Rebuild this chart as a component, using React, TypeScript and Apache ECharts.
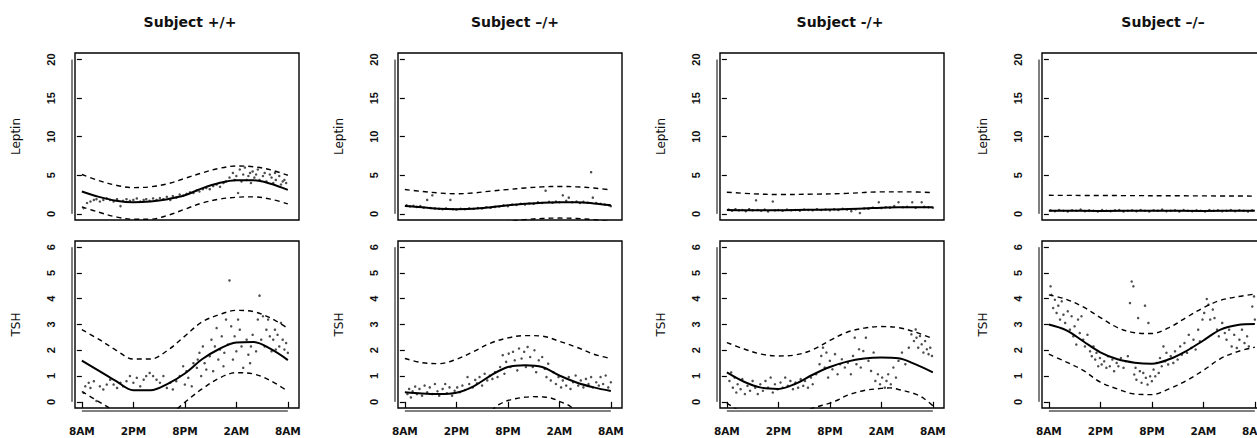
import React, { useEffect, useRef } from "react";
import * as echarts from "echarts";

// ---------- labels ----------
const subjects = ["Subject +/+", "Subject \u2013/+", "Subject -/+", "Subject \u2013/\u2013"];
const xTickHours = [0, 6, 12, 18, 24];
const xTickLabels = ["8AM", "2PM", "8PM", "2AM", "8AM"];
const leptinTicks = [0, 5, 10, 15, 20];
const tshTicks = [0, 1, 2, 3, 4, 5, 6];
const rowNames = ["Leptin", "TSH"];

// ---------- Subject +/+ ----------
const leptinPts1 = [[0.2,0.74],[0.6,1.4],[1.0,1.6],[1.4,1.8],[1.7,1.9],[2.1,1.6],[2.5,1.8],[2.9,2.0],[3.3,1.8],[3.7,1.6],[4.1,1.9],[4.5,1.0],[4.8,1.7],[5.2,1.9],[5.6,1.7],[6.0,1.8],[6.4,2.0],[6.8,1.6],[7.2,1.8],[7.5,1.9],[7.9,1.7],[8.3,2.0],[8.7,1.8],[9.1,2.05],[9.5,1.9],[9.9,2.2],[10.3,1.8],[10.6,2.3],[11.0,2.1],[11.4,2.5],[11.8,2.35],[12.2,2.6],[12.6,2.8],[13.0,2.7],[13.4,3.05],[13.7,2.9],[14.1,3.2],[14.5,3.35],[14.9,3.2],[15.3,3.6],[15.7,3.8],[16.1,3.5],[16.5,4.0],[16.8,4.2],[17.2,4.7],[17.6,5.3],[17.8,4.4],[18.0,4.9],[18.2,2.7],[18.4,5.75],[18.6,4.2],[18.8,5.1],[19.0,6.0],[19.2,4.4],[19.4,4.9],[19.6,5.3],[19.7,4.0],[19.9,5.5],[20.1,4.7],[20.3,5.1],[20.5,5.75],[20.7,4.4],[21.1,4.9],[21.3,5.3],[21.5,4.2],[21.9,5.1],[22.1,4.7],[22.3,4.0],[22.5,5.3],[22.6,4.4],[23.0,4.9],[23.2,3.8],[23.4,4.2],[23.6,4.4],[23.8,4.0]];
const leptinFit1 = [[0,2.9],[2,2.2],[4,1.7],[6,1.5],[8,1.6],[10,1.9],[12,2.4],[14,3.3],[16,4.0],[18,4.35],[20,4.35],[22,3.9],[24,3.1]];
const leptinUp1 = [[0,5.1],[2,4.3],[4,3.7],[6,3.4],[8,3.5],[10,3.9],[12,4.6],[14,5.3],[16,5.9],[18,6.2],[20,6.1],[22,5.7],[24,5.0]];
const leptinLo1 = [[0,0.9],[2,0.2],[4,-0.4],[6,-0.7],[8,-0.7],[10,-0.2],[12,0.6],[14,1.4],[16,1.9],[18,2.15],[20,2.2],[22,1.9],[24,1.3]];
const tshPts1 = [[0.2,0.35],[0.4,0.6],[0.8,0.74],[1.0,0.54],[1.4,0.8],[1.7,0.03],[2.1,0.6],[2.5,0.48],[2.9,0.67],[3.3,0.86],[3.7,0.67],[4.1,0.54],[4.5,0.74],[4.8,0.6],[5.2,0.8],[5.6,1.0],[6.0,0.74],[6.4,0.93],[6.8,0.6],[7.2,0.86],[7.5,1.0],[7.9,1.12],[8.3,1.0],[8.7,0.86],[9.1,0.74],[9.5,1.0],[9.9,0.54],[10.3,0.74],[10.6,0.48],[11.0,0.8],[11.4,1.0],[11.8,1.38],[12.0,0.67],[12.2,1.19],[12.4,0.93],[12.8,0.6],[13.0,1.5],[13.4,1.32],[13.5,1.64],[13.7,1.9],[13.9,1.0],[14.1,2.15],[14.3,1.5],[14.5,1.25],[14.9,1.77],[15.1,2.41],[15.3,1.19],[15.5,2.15],[15.7,2.86],[15.9,1.64],[16.1,2.03],[16.3,2.54],[16.5,1.38],[16.6,1.9],[16.8,3.19],[17.0,2.22],[17.2,4.71],[17.4,2.93],[17.6,1.64],[17.8,2.54],[18.0,1.96],[18.2,3.19],[18.4,2.8],[18.6,2.15],[18.8,1.32],[19.2,2.41],[19.4,1.83],[19.6,1.5],[19.7,2.15],[19.9,2.6],[20.3,1.96],[20.5,3.19],[20.7,4.12],[20.9,2.41],[21.1,3.32],[21.3,2.15],[21.5,2.8],[21.7,3.19],[21.9,2.54],[22.1,1.96],[22.3,2.41],[22.5,2.8],[22.6,2.03],[22.8,2.6],[23.0,2.15],[23.2,3.06],[23.4,2.41],[23.6,2.03],[23.8,2.28],[24.0,1.9]];
const tshFit1 = [[0,1.6],[2,1.2],[4,0.8],[6,0.45],[8,0.45],[10,0.7],[12,1.1],[14,1.65],[16,2.05],[18,2.3],[20,2.32],[22,2.05],[24,1.62]];
const tshUp1 = [[0,2.8],[2,2.42],[4,2.0],[6,1.66],[8,1.66],[10,2.0],[12,2.55],[14,3.1],[16,3.38],[18,3.55],[20,3.5],[22,3.25],[24,2.85]];
const tshLo1 = [[0,0.4],[2,0.0],[4,-0.4],[6,-0.8],[8,-0.8],[10,-0.55],[11,-0.3],[12,-0.02],[13,0.25],[14,0.5],[16,0.92],[18,1.13],[20,1.08],[22,0.82],[24,0.41]];

// ---------- Subject –/+ ----------
const leptinPts2 = [[0.2,1.1],[0.6,0.95],[1.0,1.05],[1.4,0.9],[1.8,1.0],[2.2,0.8],[2.6,1.8],[3.0,0.75],[3.2,2.4],[3.5,0.7],[4.0,0.65],[4.4,0.6],[4.8,0.7],[5.3,1.8],[5.6,0.6],[6.0,0.55],[6.5,0.65],[7.0,0.6],[7.5,0.7],[8.0,0.65],[8.5,0.75],[9.0,0.7],[9.5,0.85],[10.0,0.8],[10.5,0.9],[11.0,0.95],[11.5,1.1],[12.0,1.0],[12.5,1.2],[13.0,1.15],[13.5,1.3],[14.0,1.2],[14.5,1.35],[15.0,1.3],[15.5,1.5],[16.0,1.4],[16.4,3.0],[16.8,1.55],[17.2,1.45],[17.6,1.6],[18.0,1.5],[18.4,2.4],[18.8,1.7],[19.1,2.1],[19.5,1.5],[20.0,1.6],[20.4,1.4],[20.8,1.55],[21.3,1.45],[21.7,5.4],[21.9,2.1],[22.3,1.4],[22.8,1.3],[23.3,1.2],[23.8,1.1],[24.0,1.0]];
const leptinFit2 = [[0,1.0],[2,0.85],[4,0.65],[6,0.6],[8,0.65],[10,0.85],[12,1.1],[14,1.3],[16,1.45],[18,1.5],[20,1.5],[22,1.35],[24,1.1]];
const leptinUp2 = [[0,3.15],[2,2.9],[4,2.7],[6,2.6],[8,2.7],[10,2.95],[12,3.15],[14,3.35],[16,3.5],[18,3.55],[20,3.5],[22,3.35],[24,3.1]];
const leptinLo2 = [[0,-1.2],[4,-1.4],[8,-1.4],[12,-1.0],[14,-0.75],[16,-0.6],[18,-0.55],[20,-0.6],[22,-0.75],[24,-1.0]];
const tshPts2 = [[0.3,0.3],[0.5,0.5],[0.7,0.17],[0.9,0.41],[1.2,0.59],[1.4,0.3],[1.7,0.5],[2.0,0.24],[2.3,0.63],[2.6,0.37],[2.9,0.56],[3.2,0.3],[3.5,0.69],[3.8,0.41],[4.0,0.24],[4.4,0.5],[4.7,0.69],[4.9,0.33],[5.2,0.56],[5.5,0.24],[5.8,0.43],[6.1,0.56],[6.4,0.37],[6.7,0.63],[7.0,0.46],[7.3,0.96],[7.5,0.69],[7.9,0.56],[8.2,0.85],[8.4,0.72],[8.7,0.96],[9.0,0.63],[9.3,1.09],[9.6,0.83],[9.9,1.02],[10.2,0.89],[10.5,1.15],[10.8,0.96],[11.1,1.35],[11.4,1.81],[11.6,1.09],[11.8,1.55],[12.1,1.87],[12.3,1.35],[12.6,1.94],[12.8,1.61],[13.1,1.22],[13.3,2.07],[13.6,1.68],[13.9,1.94],[14.1,1.35],[14.3,2.13],[14.6,1.74],[14.9,1.35],[15.1,2.0],[15.3,1.15],[15.6,1.61],[16.0,1.74],[16.3,1.28],[16.5,0.96],[16.7,1.48],[17.0,0.83],[17.3,1.15],[17.6,0.69],[17.9,0.96],[18.2,0.56],[18.4,0.83],[18.8,0.63],[19.1,0.96],[19.3,0.5],[19.6,0.76],[19.9,1.02],[20.2,0.63],[20.5,0.83],[20.8,0.56],[21.1,0.89],[21.4,0.69],[21.7,0.96],[21.9,0.56],[22.3,0.76],[22.6,0.63],[22.8,0.96],[23.1,0.69],[23.4,1.02],[23.7,0.56],[24.0,0.76]];
const tshFit2 = [[0,0.37],[2,0.32],[4,0.3],[6,0.35],[8,0.6],[10,1.02],[12,1.35],[14,1.42],[16,1.35],[18,1.02],[20,0.75],[22,0.56],[24,0.42]];
const tshUp2 = [[0,1.68],[2,1.52],[4,1.48],[6,1.65],[8,1.95],[10,2.28],[12,2.48],[14,2.57],[16,2.55],[18,2.35],[20,2.12],[22,1.85],[24,1.68]];
const tshLo2 = [[0,-0.9],[3,-0.95],[6,-0.95],[8,-0.7],[10,-0.35],[11,-0.1],[12,0.05],[13,0.13],[14,0.18],[15,0.2],[16,0.19],[17,0.15],[18,0.02],[19,-0.12],[20,-0.35],[22,-0.7],[24,-0.85]];

// ---------- Subject -/+ ----------
const leptinPts3 = [[0.2,0.55],[0.6,0.4],[1.0,0.6],[1.4,0.45],[1.8,0.5],[2.2,0.35],[2.6,0.6],[3.0,0.45],[3.4,1.75],[3.6,0.5],[4.0,0.4],[4.4,0.55],[4.8,0.3],[5.35,1.6],[5.6,0.45],[6.0,0.5],[6.5,0.4],[7.0,0.55],[7.5,0.45],[8.0,0.5],[8.5,0.4],[9.0,0.55],[9.5,0.5],[10,0.45],[10.5,0.6],[11,0.5],[11.5,0.55],[12,0.45],[12.5,0.6],[13,0.5],[13.5,0.65],[14,0.55],[14.5,0.35],[15,0.6],[15.5,0.1],[16,0.7],[16.5,0.65],[17,0.8],[17.7,1.5],[18,0.75],[18.5,0.85],[19,0.8],[19.5,1.0],[20,1.5],[20.5,0.85],[21,0.9],[21.6,1.5],[22,0.8],[22.7,1.5],[23,0.9],[23.5,0.85],[24,0.8]];
const leptinFit3 = [[0,0.5],[4,0.45],[8,0.5],[12,0.55],[16,0.7],[18,0.8],[20,0.85],[24,0.85]];
const leptinUp3 = [[0,2.8],[3,2.6],[6,2.5],[10,2.55],[14,2.65],[18,2.85],[21,2.85],[24,2.75]];
const leptinLo3 = [[0,-1.8],[8,-1.6],[16,-1.45],[24,-1.1]];
const tshPts3 = [[0.3,0.81],[0.5,1.14],[0.7,0.55],[0.9,0.94],[1.1,0.36],[1.25,0.68],[1.6,0.49],[1.8,0.88],[2.1,0.3],[2.4,0.62],[2.7,0.43],[3.0,0.81],[3.3,0.55],[3.6,0.3],[3.9,0.68],[4.2,0.43],[4.5,0.81],[4.8,0.55],[5.1,0.94],[5.35,0.36],[5.6,0.68],[5.9,0.49],[6.25,0.75],[6.5,0.55],[6.8,0.94],[7.1,0.62],[7.4,0.81],[7.7,0.49],[8.0,0.75],[8.3,0.55],[8.6,0.88],[8.9,0.62],[9.1,0.81],[9.45,0.55],[9.8,0.94],[10.0,0.68],[10.4,1.07],[10.8,1.46],[11.0,1.78],[11.2,2.1],[11.4,1.33],[11.6,1.91],[11.8,0.94],[12.0,1.59],[12.3,1.26],[12.6,1.85],[12.9,1.07],[13.2,1.46],[13.4,1.65],[13.75,1.33],[14.1,1.52],[14.45,1.07],[14.7,1.78],[14.9,2.49],[15.1,1.46],[15.4,2.04],[15.6,1.33],[15.9,1.97],[16.2,2.49],[16.5,1.59],[16.8,1.2],[17.1,1.91],[17.3,0.81],[17.6,1.07],[17.85,0.68],[18.1,0.94],[18.4,0.55],[18.6,0.81],[18.8,1.07],[19.1,0.68],[19.4,1.33],[19.7,0.94],[20.0,1.59],[20.4,1.91],[20.8,1.46],[21.2,2.1],[21.5,2.62],[21.8,2.36],[22.0,2.81],[22.1,2.49],[22.3,2.1],[22.5,2.55],[22.7,2.23],[22.9,1.91],[23.1,2.36],[23.3,2.04],[23.5,1.85],[23.7,2.1],[23.9,1.78]];
const tshFit3 = [[0,1.14],[2,0.78],[4,0.55],[6,0.5],[8,0.7],[10,1.05],[12,1.35],[14,1.56],[16,1.68],[18,1.72],[20,1.69],[22,1.45],[24,1.14]];
const tshUp3 = [[0,2.3],[2,2.05],[4,1.85],[6,1.78],[8,1.82],[10,2.02],[12,2.38],[14,2.7],[16,2.86],[18,2.92],[20,2.88],[22,2.7],[24,2.45]];
const tshLo3 = [[0,-0.05],[2,-0.45],[4,-0.75],[6,-0.8],[8,-0.55],[10,-0.25],[12,-0.05],[13,0.08],[14,0.25],[16,0.44],[18,0.52],[19,0.54],[20,0.48],[22,0.3],[23,0.12],[24,-0.15]];

// ---------- Subject –/– ----------
const leptinPts4 = [[0.2,0.45],[0.7,0.35],[1.2,0.5],[1.7,0.4],[2.2,0.3],[2.7,0.45],[3.2,0.4],[3.7,0.55],[4.2,0.35],[4.7,0.45],[5.2,0.4],[5.7,0.3],[6.2,0.5],[6.7,0.4],[7.2,0.35],[7.7,0.45],[8.2,0.5],[8.7,0.3],[9.2,0.4],[9.7,0.45],[10.2,0.35],[10.7,0.5],[11.2,0.4],[11.7,0.3],[12.2,0.45],[12.7,0.4],[13.2,0.55],[13.7,0.35],[14.2,0.4],[14.7,0.45],[15.2,0.3],[15.7,0.5],[16.2,0.4],[16.7,0.35],[17.2,0.45],[17.7,0.4],[18.2,0.3],[18.7,0.5],[19.2,0.4],[19.7,0.45],[20.2,0.35],[20.7,0.4],[21.2,0.5],[21.7,0.35],[22.2,0.45],[22.7,0.4],[23.2,0.3],[23.7,0.45]];
const leptinFit4 = [[0,0.4],[6,0.38],[12,0.4],[18,0.38],[24,0.4]];
const leptinUp4 = [[0,2.4],[12,2.35],[24,2.3]];
const leptinLo4 = [[0,-1.6],[24,-1.6]];
const tshPts4 = [[0.2,4.48],[0.3,4.15],[0.5,3.64],[0.7,3.96],[0.9,3.45],[1.1,3.73],[1.3,3.19],[1.5,3.9],[1.7,3.38],[1.9,3.06],[2.2,3.51],[2.45,2.8],[2.65,3.32],[2.85,2.54],[3.0,2.93],[3.2,2.22],[3.4,3.19],[3.6,2.67],[3.8,3.32],[4.0,2.41],[4.2,2.15],[4.5,2.6],[4.8,1.96],[5.0,1.77],[5.2,2.15],[5.4,1.64],[5.55,1.9],[5.75,1.38],[5.95,1.7],[6.15,1.45],[6.45,1.57],[6.7,1.32],[6.9,1.77],[7.1,1.38],[7.4,1.64],[7.6,1.19],[7.9,1.51],[8.1,1.38],[8.4,1.7],[8.7,1.32],[8.95,1.57],[9.2,1.77],[9.45,3.83],[9.65,4.67],[9.85,4.48],[9.95,1.06],[10.1,1.32],[10.2,0.86],[10.4,3.25],[10.6,1.19],[10.8,0.74],[11.0,1.12],[11.2,3.73],[11.3,0.93],[11.5,0.67],[11.6,3.06],[11.8,0.99],[12.0,0.8],[12.2,1.25],[12.4,0.99],[12.6,1.51],[12.8,1.12],[12.95,1.7],[13.15,1.38],[13.35,2.15],[13.55,1.57],[13.7,1.9],[13.9,1.45],[14.2,1.77],[14.5,1.51],[14.7,1.96],[15.0,1.64],[15.3,2.15],[15.5,1.83],[15.8,2.28],[16.1,1.9],[16.3,2.6],[16.6,2.09],[16.85,2.41],[17.1,2.03],[17.4,2.8],[17.6,2.35],[17.9,3.19],[18.1,3.45],[18.4,3.99],[18.6,3.77],[18.8,3.19],[19.1,3.58],[19.3,3.25],[19.6,2.8],[19.8,2.54],[20.2,3.06],[20.5,2.67],[20.7,2.41],[21.0,2.8],[21.3,2.15],[21.6,2.6],[21.9,2.09],[22.2,2.41],[22.5,2.8],[22.8,2.28],[23.1,2.54],[23.3,2.15],[23.7,3.7],[23.9,4.09],[24.0,3.19]];
const tshFit4 = [[0,3.0],[2,2.78],[4,2.35],[6,1.92],[8,1.65],[10,1.52],[12,1.48],[14,1.65],[16,1.97],[18,2.38],[20,2.8],[22,2.98],[24,3.02]];
const tshUp4 = [[0,4.15],[2,3.98],[4,3.68],[6,3.27],[8,2.88],[10,2.68],[12,2.65],[14,2.88],[16,3.27],[18,3.65],[20,3.94],[22,4.08],[24,4.18]];
const tshLo4 = [[0,1.85],[2,1.55],[4,1.22],[6,0.76],[8,0.5],[10,0.3],[12,0.28],[14,0.5],[16,0.82],[18,1.22],[20,1.68],[22,1.95],[24,2.12]];

const panels = [
  { leptin: [leptinPts1, leptinFit1, leptinUp1, leptinLo1], tsh: [tshPts1, tshFit1, tshUp1, tshLo1] },
  { leptin: [leptinPts2, leptinFit2, leptinUp2, leptinLo2], tsh: [tshPts2, tshFit2, tshUp2, tshLo2] },
  { leptin: [leptinPts3, leptinFit3, leptinUp3, leptinLo3], tsh: [tshPts3, tshFit3, tshUp3, tshLo3] },
  { leptin: [leptinPts4, leptinFit4, leptinUp4, leptinLo4], tsh: [tshPts4, tshFit4, tshUp4, tshLo4] },
];

// ---------- layout ----------
const GRID_LEFT = [75, 398, 720, 1042];
const GRID_W = 224;
const GRID_H = 167;
const ROW_TOP = [53, 241];
const TITLE_X = [190, 515, 840, 1163];
const AXIS_OFFSET = 3;

export default function App() {
  const ref = useRef<HTMLDivElement>(null);
  useEffect(() => {
    const chart = echarts.init(ref.current!, undefined, { renderer: "svg" });
    const grid: any[] = new Array(8);
    const xAxis: any[] = new Array(8);
    const yAxis: any[] = new Array(8);
    const series: any[] = [];
    const graphic: any[] = [];

    panels.forEach((p, col) => {
      graphic.push({
        type: "text",
        x: TITLE_X[col],
        y: 22,
        style: {
          text: subjects[col],
          font: "bold 14px 'DejaVu Sans'",
          fill: "#111",
          textAlign: "center",
          textVerticalAlign: "middle",
        },
      });
      [0, 1].forEach((row) => {
        const gi = row * 4 + col;
        const isTsh = row === 1;
        const ticks = isTsh ? tshTicks : leptinTicks;
        grid[gi] = {
          left: GRID_LEFT[col],
          top: ROW_TOP[row],
          width: GRID_W,
          height: GRID_H,
          show: true,
          borderColor: "#000",
          borderWidth: 1.4,
          backgroundColor: "transparent",
        };
        xAxis[gi] = {
          gridIndex: gi,
          type: "value",
          min: -0.8,
          max: 25.3,
          show: isTsh,
          offset: AXIS_OFFSET,
          axisLine: { show: false },
          splitLine: { show: false },
          axisTick: { show: true, length: 6, customValues: xTickHours, lineStyle: { color: "#000", width: 1.2 } },
          axisLabel: {
            customValues: xTickHours,
            formatter: (v: number) => xTickLabels[xTickHours.indexOf(Math.round(v))] ?? "",
            margin: 14,
            fontSize: 10.5,
            fontWeight: "bold",
            fontFamily: "DejaVu Sans",
            color: "#111",
          },
        };
        yAxis[gi] = {
          gridIndex: gi,
          type: "value",
          min: isTsh ? -0.24 : -0.8,
          max: isTsh ? 6.24 : 20.85,
          offset: AXIS_OFFSET,
          axisLine: { show: false },
          splitLine: { show: false },
          axisTick: { show: true, length: 5, customValues: ticks, lineStyle: { color: "#000", width: 1.2 } },
          axisLabel: {
            customValues: ticks,
            rotate: 90,
            margin: 16,
            fontSize: 11,
            fontWeight: "bold",
            fontFamily: "Liberation Sans",
            color: "#111",
          },
          name: rowNames[row],
          nameLocation: "middle",
          nameGap: 50,
          nameTextStyle: { fontSize: 12, fontFamily: "DejaVu Sans", color: "#111" },
        };
        const [pts, fit, up, lo] = isTsh ? p.tsh : p.leptin;
        series.push({
          type: "scatter",
          xAxisIndex: gi,
          yAxisIndex: gi,
          data: pts,
          symbolSize: 2.5,
          itemStyle: { color: "#222" },
          silent: true,
        });
        series.push({
          type: "line",
          xAxisIndex: gi,
          yAxisIndex: gi,
          data: fit,
          smooth: 0.35,
          showSymbol: false,
          lineStyle: { color: "#000", width: 2 },
          silent: true,
        });
        [up, lo].forEach((band) =>
          series.push({
            type: "line",
            xAxisIndex: gi,
            yAxisIndex: gi,
            data: band,
            smooth: 0.35,
            showSymbol: false,
            lineStyle: { color: "#000", width: 1.4, type: [5, 4] },
            silent: true,
          })
        );
      });
    });

    chart.setOption({ animation: false, grid, xAxis, yAxis, series, graphic });

    // axis lines spanning first to last tick, offset from the box (R style)
    const extra: any[] = [...graphic];
    panels.forEach((_, col) => {
      [0, 1].forEach((row) => {
        const gi = row * 4 + col;
        const ticks = row === 1 ? tshTicks : leptinTicks;
        const xLine = GRID_LEFT[col] - AXIS_OFFSET;
        const yA = chart.convertToPixel({ yAxisIndex: gi } as any, ticks[0]) as number;
        const yB = chart.convertToPixel({ yAxisIndex: gi } as any, ticks[ticks.length - 1]) as number;
        extra.push({ type: "line", shape: { x1: xLine, y1: yA, x2: xLine, y2: yB }, style: { stroke: "#000", lineWidth: 1 } });
        if (row === 1) {
          const xA = chart.convertToPixel({ xAxisIndex: gi } as any, xTickHours[0]) as number;
          const xB = chart.convertToPixel({ xAxisIndex: gi } as any, xTickHours[xTickHours.length - 1]) as number;
          const yLine = ROW_TOP[1] + GRID_H + AXIS_OFFSET;
          extra.push({ type: "line", shape: { x1: xA, y1: yLine, x2: xB, y2: yLine }, style: { stroke: "#000", lineWidth: 1 } });
        }
      });
    });
    chart.setOption({ graphic: extra });

    return () => chart.dispose();
  }, []);

  return (
    <div style={{ position: "fixed", left: 0, top: 0, width: 1257, height: 438, overflow: "hidden", background: "#fff" }}>
      <div ref={ref} style={{ width: 1290, height: 438 }} />
    </div>
  );
}
